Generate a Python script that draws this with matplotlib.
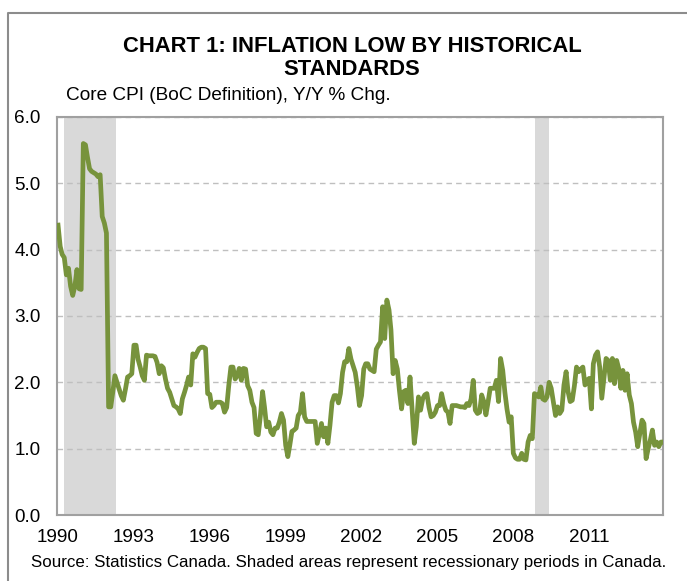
#!/usr/bin/env python3
import numpy as np
import pandas as pd
import matplotlib
matplotlib.use('Agg')
import matplotlib.pyplot as plt
from matplotlib.lines import Line2D

# Core CPI (BoC definition), y/y % change, monthly from Jan 1990
core_cpi_1990s = [
    4.37, 4.05, 3.93, 3.88, 3.62, 3.72, 3.45, 3.31, 3.45, 3.70, 3.41, 3.40,  # 1990
    5.60, 5.58, 5.40, 5.22, 5.18, 5.16, 5.14, 5.10, 5.13, 4.50, 4.40, 4.25,  # 1991
    1.63, 1.63, 1.85, 2.10, 2.00, 1.90, 1.80, 1.73, 1.90, 2.08, 2.10, 2.13,  # 1992
    2.56, 2.56, 2.35, 2.23, 2.10, 2.03, 2.41, 2.40, 2.40, 2.40, 2.39, 2.30,  # 1993
    2.13, 2.25, 2.22, 2.05, 1.91, 1.85, 1.75, 1.65, 1.63, 1.60, 1.53, 1.75,  # 1994
    1.85, 1.96, 2.08, 1.96, 2.43, 2.38, 2.45, 2.51, 2.53, 2.53, 2.51, 1.83,  # 1995
    1.82, 1.62, 1.65, 1.70, 1.70, 1.70, 1.68, 1.55, 1.62, 1.95, 2.23, 2.23,  # 1996
    2.05, 2.10, 2.21, 2.03, 2.21, 2.20, 1.95, 1.88, 1.70, 1.62, 1.23, 1.21,  # 1997
    1.50, 1.86, 1.63, 1.33, 1.40, 1.25, 1.21, 1.31, 1.31, 1.40, 1.53, 1.43,  # 1998
    1.05, 0.88, 1.05, 1.26, 1.28, 1.31, 1.50, 1.55, 1.83, 1.48, 1.41, 1.41,  # 1999
]
core_cpi_2000s = [
    1.41, 1.41, 1.41, 1.08, 1.23, 1.38, 1.18, 1.31, 1.08, 1.35, 1.70, 1.80,  # 2000
    1.80, 1.69, 1.83, 2.15, 2.31, 2.31, 2.51, 2.35, 2.25, 2.15, 1.93, 1.65,  # 2001
    1.80, 2.20, 2.28, 2.28, 2.20, 2.18, 2.16, 2.50, 2.56, 2.61, 3.14, 2.66,  # 2002
    3.24, 3.09, 2.79, 2.13, 2.33, 2.20, 1.88, 1.60, 1.86, 1.88, 1.68, 2.08,  # 2003
    1.58, 1.08, 1.33, 1.78, 1.58, 1.75, 1.81, 1.83, 1.62, 1.48, 1.50, 1.55,  # 2004
    1.65, 1.65, 1.83, 1.68, 1.58, 1.55, 1.38, 1.65, 1.65, 1.65, 1.64, 1.63,  # 2005
    1.63, 1.62, 1.68, 1.65, 1.75, 2.03, 1.58, 1.53, 1.55, 1.81, 1.71, 1.51,  # 2006
    1.70, 1.91, 1.91, 1.91, 2.03, 1.71, 2.36, 2.18, 1.85, 1.60, 1.40, 1.48,  # 2007
    0.93, 0.86, 0.84, 0.84, 0.93, 0.84, 0.83, 1.10, 1.20, 1.15, 1.83, 1.81,  # 2008
    1.78, 1.93, 1.75, 1.73, 1.78, 2.00, 1.91, 1.71, 1.50, 1.63, 1.53, 1.58,  # 2009
]
core_cpi_2010s = [
    1.96, 2.16, 1.86, 1.71, 1.73, 1.95, 2.23, 2.16, 2.20, 2.23, 1.96, 2.03,  # 2010
    2.06, 1.60, 2.28, 2.41, 2.46, 2.23, 1.76, 2.06, 2.36, 2.33, 2.03, 2.36,  # 2011
    1.98, 2.33, 2.21, 1.91, 2.18, 1.88, 2.13, 1.81, 1.68, 1.40, 1.25, 1.03,  # 2012
    1.23, 1.43, 1.38, 0.85, 1.00, 1.13, 1.28, 1.05, 1.10, 1.03, 1.10, 1.10,  # 2013
]

recession_start = ['1990-03-25', '2008-11-10']
recession_end = ['1992-04-15', '2009-05-28']

tick_years = [1990, 1993, 1996, 1999, 2002, 2005, 2008, 2011]
y_ticks = [0, 1, 2, 3, 4, 5, 6]

core_cpi = core_cpi_1990s + core_cpi_2000s + core_cpi_2010s
months = pd.date_range('1990-01-01', periods=len(core_cpi), freq='MS')

plt.rcParams['font.family'] = ['Liberation Sans', 'DejaVu Sans']

W, H = 687, 581
fig = plt.figure(figsize=(W / 100, H / 100), dpi=100)
ax = fig.add_axes([57 / W, 66 / H, 606 / W, 398 / H])

# recession shading
for s, e in zip(recession_start, recession_end):
    ax.axvspan(pd.Timestamp(s), pd.Timestamp(e), color='#D9D9D9', lw=0, zorder=0)

ax.plot(months, core_cpi, color='#77933C', lw=3.4, solid_joinstyle='round', zorder=3)

ax.set_ylim(0, 6)
ax.set_yticks(y_ticks)
ax.set_yticklabels(['{:.1f}'.format(v) for v in y_ticks])
ax.set_xlim(pd.Timestamp('1989-12-17'), months[-1])
ax.set_xticks([pd.Timestamp(f'{y}-01-01') for y in tick_years])
ax.set_xticklabels([str(y) for y in tick_years])
ax.tick_params(axis='both', length=0, labelsize=13.6)
ax.tick_params(axis='y', pad=12)
ax.tick_params(axis='x', pad=10)

ax.grid(axis='y', color='#BFBFBF', ls=(0, (4, 3)), lw=1, zorder=1)
for sp in ax.spines.values():
    sp.set_color('#A0A0A0')
    sp.set_linewidth(1.5)

# outer chart border
fig.add_artist(Line2D([8 / W, 8 / W, 1.0], [0.0, 1 - 13 / H, 1 - 13 / H],
                      color='#8C8C8C', lw=1.5))

fig.text(352 / W, 1 - 46.5 / H, 'CHART 1: INFLATION LOW BY HISTORICAL',
         ha='center', va='center', fontsize=15.8, fontweight='bold')
fig.text(352 / W, 1 - 70 / H, 'STANDARDS',
         ha='center', va='center', fontsize=15.8, fontweight='bold')
fig.text(66 / W, 1 - 96 / H, 'Core CPI (BoC Definition), Y/Y % Chg.',
         ha='left', va='center', fontsize=13.7)
fig.text(349 / W, 1 - 563 / H,
         'Source: Statistics Canada. Shaded areas represent recessionary periods in Canada.',
         ha='center', va='center', fontsize=12.2)

plt.savefig('out.png', dpi=100)
plt.close()
